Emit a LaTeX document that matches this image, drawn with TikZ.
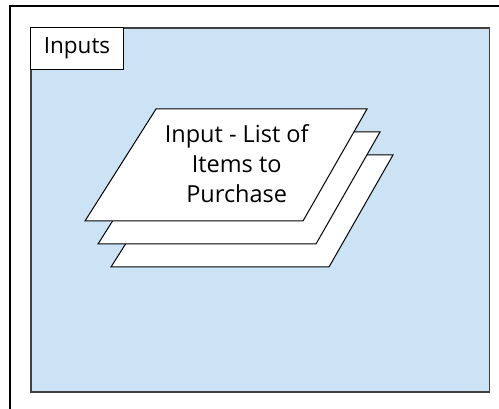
\documentclass[tikz,border=0pt]{standalone}
\usepackage{fontspec}
\setmainfont{Open Sans}
\usepackage{xcolor}
\usetikzlibrary{positioning}
\usetikzlibrary{calc}
\definecolor{paneblue}{RGB}{204,226,245}
\tikzstyle{pane} =[draw=black!75, fill=paneblue, line width=1.8pt, inner sep=0pt, anchor=north west]
\tikzstyle{tagbox} =[draw=black, fill=white, line width=1pt, inner sep=0pt, anchor=north west]
\tikzstyle{sheet} =[draw=black, fill=white, line width=1pt, line join=miter]

\begin{document}
\begin{tikzpicture}[x=1pt,y=-1pt]
		\useasboundingbox (0,0) rectangle (499,409);
		\draw[line width=2.3pt] (499,6) -- (10.3,6) -- (10.3,409);
		\node (inputs)[pane,
		minimum width=458.5pt,
		minimum height=364.5pt] at (30,27) {};
		\node (tag)[tagbox,
		minimum width=93pt,
		minimum height=42pt,
		font=\fontsize{22.5}{27}\selectfont] at (inputs.north west) {Inputs};
		% three stacked sheets, back to front
		\coordinate (corner) at (156,109);
		\foreach \dx/\dy in {26/46, 13/23, 0/0}
		\draw[sheet] ($(corner)+(\dx,\dy)$) -- ++(211,0) -- ++(-64,112) -- ++(-218,0) -- cycle;
		\node (items)[align=center, inner sep=0pt,
		font=\fontsize{23.5}{30}\selectfont] at (236.7,164) {Input - List of\\Items to\\Purchase};
\end{tikzpicture}
\end{document}
